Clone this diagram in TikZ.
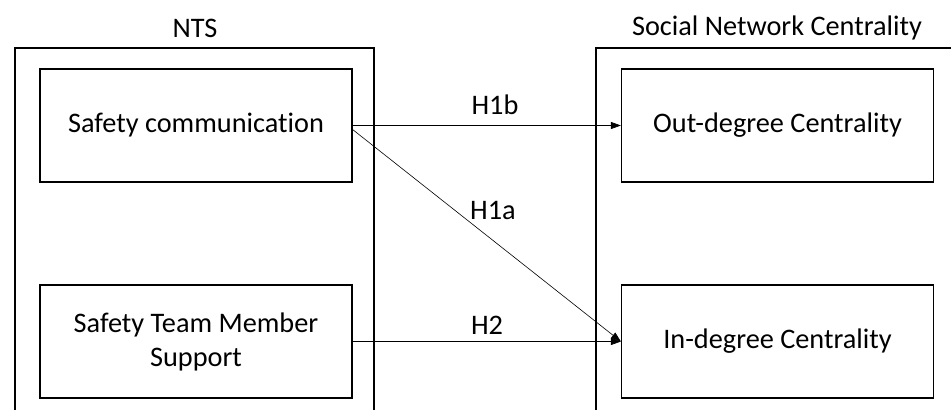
\documentclass[tikz,border=0pt]{standalone}
\usepackage{fontspec}
\setmainfont{Carlito}[Ligatures=NoCommon]
\usetikzlibrary{arrows.meta}

\tikzset{
    varbox/.style={draw, line width=1.2pt, minimum width=312pt, minimum height=113pt, align=center, inner sep=0pt},
    hyp/.style={-{Triangle[length=10pt,width=7pt]}, line width=0.6pt}
}

\begin{document}
\begin{tikzpicture}[x=1pt,y=1pt,font=\fontsize{28.3}{34}\selectfont]
    \useasboundingbox (0,0) rectangle (951,410);

    % outer groups
    \draw [line width=1.2pt] (15,0) -- (15,362) -- (374,362) -- (374,0);
    \draw [line width=1.2pt] (596,0) -- (596,362) -- (951,362);
    \node (nts) at (195,382) {NTS};
    \node (snc) at (777,382) {Social Network Centrality};

    % variables
    \node [varbox] (comm) at (196,284.5) {Safety communication};
    \node [varbox] (supp) at (196,68.5) {Safety Team Member\\Support};
    \node [varbox] (outdeg) at (777.5,284.5) {Out-degree Centrality};
    \node [varbox] (indeg) at (777.5,68.5) {In-degree Centrality};

    % hypotheses
    \draw [hyp] (comm.east) -- (outdeg.west);
    \draw [hyp] ([yshift=-4pt]comm.east) -- (indeg.west);
    \draw [hyp] (supp.east) -- (indeg.west);
    \node (h1b) at (495,305) {H1b};
    \node (h1a) at (493,200) {H1a};
    \node (h2) at (487,85) {H2};
\end{tikzpicture}
\end{document}
